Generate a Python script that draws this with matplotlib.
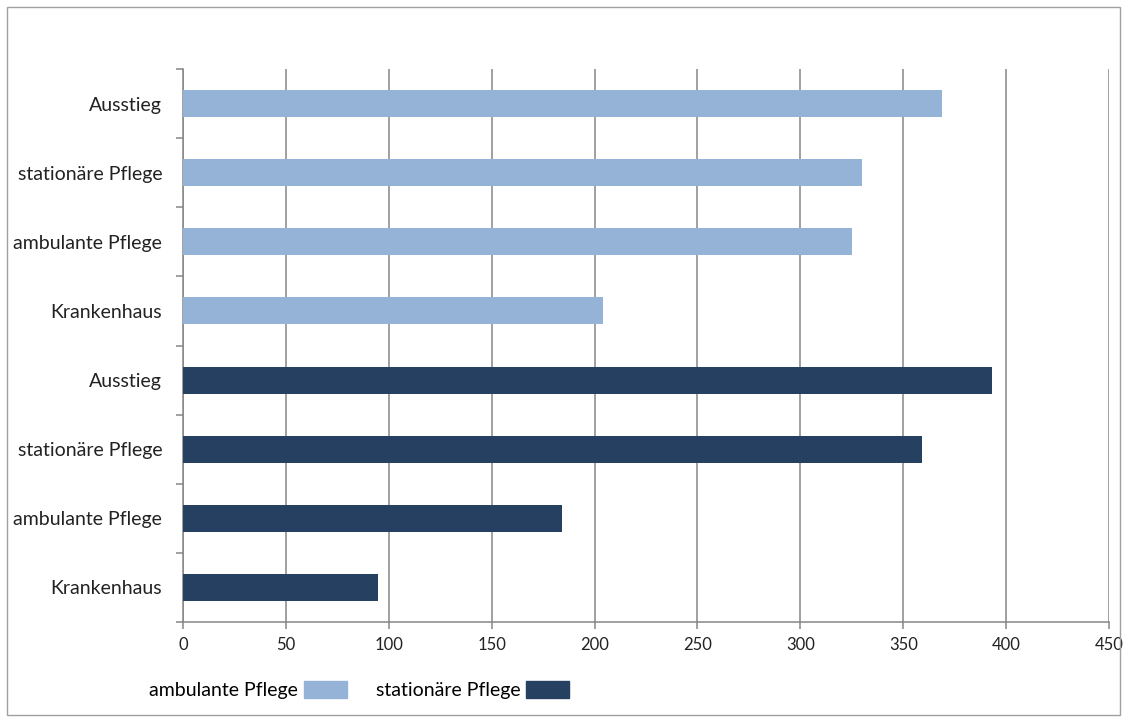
import matplotlib.pyplot as plt
from matplotlib.patches import Rectangle

categories = ["Krankenhaus", "ambulante Pflege", "stationäre Pflege", "Ausstieg"]
ambulant_values = [204, 325, 330, 369]
stationaer_values = [95, 184, 359, 393]
series_names = ["ambulante Pflege", "stationäre Pflege"]
x_ticks = list(range(0, 451, 50))

LIGHT = "#95b3d7"
DARK = "#254061"
GREY = "#868686"

plt.rcParams["font.family"] = ["Lato", "DejaVu Sans"]

fig = plt.figure(figsize=(11.27, 7.22), dpi=100)
ax = fig.add_axes([183 / 1127, 1 - 622 / 722, (1109 - 183) / 1127, (622 - 69) / 722])

labels = categories + categories
values = stationaer_values + ambulant_values
colors = [DARK] * len(stationaer_values) + [LIGHT] * len(ambulant_values)
ypos = list(range(len(labels)))
ax.barh(ypos, values, height=0.39, color=colors, zorder=3)

ax.set_xlim(0, 450)
ax.set_ylim(-0.5, len(labels) - 0.5)
ax.set_xticks(x_ticks)
ax.set_yticks(ypos)
ax.set_yticklabels(labels)
ax.set_yticks([y - 0.5 for y in ypos] + [len(labels) - 0.5], minor=True)

ax.grid(axis="x", color=GREY, linewidth=1.1, zorder=0)
for side in ["top", "right"]:
    ax.spines[side].set_visible(False)
for side in ["left", "bottom"]:
    ax.spines[side].set_color(GREY)
    ax.spines[side].set_linewidth(1.1)

ax.tick_params(axis="y", which="major", length=0, pad=15, labelsize=14, labelcolor="#222222")
ax.tick_params(axis="y", which="minor", length=5, color=GREY, width=1.1)
ax.tick_params(axis="x", length=5, color=GREY, width=1.1, labelsize=12, labelcolor="#222222", pad=6)

handles = [Rectangle((0, 0), 1, 1, color=LIGHT), Rectangle((0, 0), 1, 1, color=DARK)]
fig.legend(handles, series_names, loc="center", bbox_to_anchor=(359 / 1127, 1 - 690 / 722),
           ncol=2, frameon=False, markerfirst=False, fontsize=14, handlelength=2.2,
           handleheight=1.0, handletextpad=0.3, columnspacing=1.5)

fig.patches.append(Rectangle((7 / 1127, 1 - 715 / 722), (1120 - 7) / 1127, (715 - 7) / 722,
                             transform=fig.transFigure, fill=False, edgecolor="#a0a0a0",
                             linewidth=1.0))

fig.savefig("out.png", dpi=100, facecolor="white")
